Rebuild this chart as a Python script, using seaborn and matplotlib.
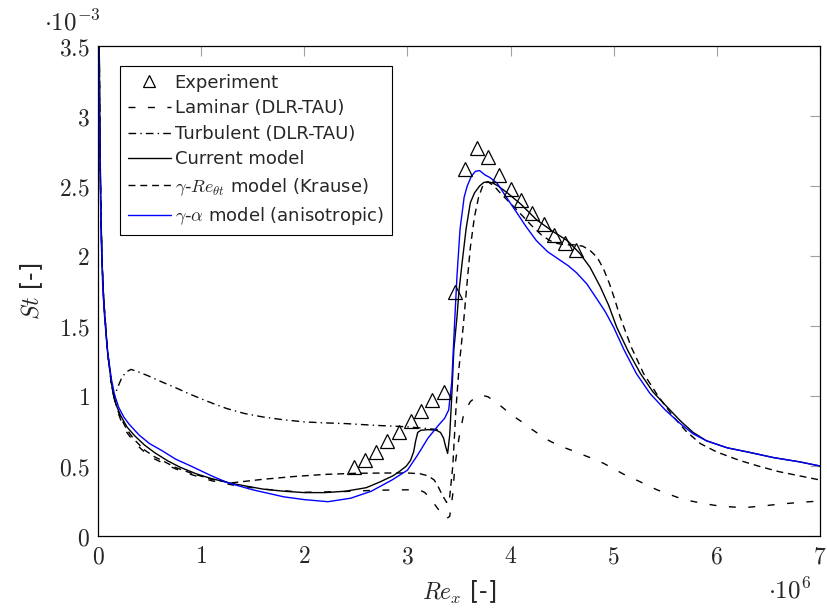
import matplotlib
matplotlib.use("Agg")
import matplotlib.pyplot as plt
import seaborn as sns
from matplotlib.ticker import FuncFormatter, MultipleLocator

# Re_x in units of 1e6, St in units of 1e-3
exp_x = [2.48, 2.59, 2.70, 2.80, 2.92, 3.03, 3.13, 3.24, 3.35, 3.46, 3.56,
         3.67, 3.78, 3.89, 4.00, 4.10, 4.21, 4.32, 4.42, 4.53, 4.63]
exp_y = [0.49, 0.54, 0.60, 0.68, 0.74, 0.82, 0.89, 0.97, 1.03, 1.74, 2.62,
         2.77, 2.71, 2.58, 2.48, 2.40, 2.31, 2.23, 2.15, 2.09, 2.04]

# common near-leading-edge decay
lead_x = [0.012, 0.02, 0.03, 0.04, 0.055, 0.075, 0.09, 0.11, 0.13, 0.155]
lead_y = [3.5, 2.75, 2.25, 1.95, 1.69, 1.49, 1.33, 1.21, 1.09, 0.99]

lam_x = lead_x + [0.185, 0.22, 0.28, 0.35, 0.45, 0.55, 0.62, 0.75, 0.9, 1.1,
                  1.3, 1.6, 2.0, 2.4, 2.7, 3.0, 3.12, 3.17, 3.22, 3.27, 3.32, 3.36,
                  3.38, 3.41, 3.44, 3.46, 3.5, 3.54, 3.58, 3.61, 3.66, 3.72, 3.78,
                  3.85, 3.92, 4.0, 4.1, 4.19, 4.35, 4.47, 4.6, 4.77, 4.9, 5.0, 5.1,
                  5.22, 5.32, 5.42, 5.53, 5.64, 5.75, 5.85, 5.97, 6.1, 6.2, 6.3,
                  6.45, 6.6, 6.8, 7.0]
lam_y = lead_y + [0.9, 0.83, 0.74, 0.67, 0.6, 0.55, 0.525, 0.48, 0.44, 0.395,
                  0.365, 0.335, 0.312, 0.318, 0.327, 0.33, 0.328, 0.31, 0.27, 0.22, 0.17, 0.135,
                  0.125, 0.14, 0.3, 0.5, 0.7, 0.85, 0.92, 0.96, 0.99, 1.005, 0.995,
                  0.96, 0.92, 0.87, 0.82, 0.77, 0.69, 0.645, 0.61, 0.56, 0.52, 0.48, 0.44,
                  0.4, 0.365, 0.33, 0.3, 0.27, 0.25, 0.235, 0.22, 0.21, 0.205, 0.205,
                  0.215, 0.227, 0.24, 0.25]

turb_x = lead_x + [0.19, 0.23, 0.27, 0.32, 0.4, 0.5, 0.62, 0.75, 0.87, 1.0,
                   1.12, 1.25, 1.42, 1.6, 1.8, 2.0, 2.2, 2.4, 2.7, 3.0, 3.3]
turb_y = lead_y + [1.06, 1.13, 1.17, 1.19, 1.17, 1.14, 1.1, 1.06, 1.02, 0.98,
                   0.945, 0.91, 0.875, 0.85, 0.83, 0.815, 0.808, 0.803, 0.79, 0.78, 0.76]

cur_x = lead_x + [0.185, 0.22, 0.28, 0.35, 0.45, 0.55, 0.68, 0.8, 0.95, 1.1,
                  1.3, 1.6, 1.8, 2.0, 2.2, 2.4, 2.6, 2.73, 2.86, 2.93, 2.99, 3.03,
                  3.06, 3.08, 3.1, 3.13, 3.2, 3.28, 3.32, 3.35, 3.37, 3.39, 3.41,
                  3.43, 3.45, 3.48, 3.5, 3.53, 3.57, 3.61, 3.65, 3.7, 3.74, 3.78,
                  3.83, 3.88, 3.97, 4.1, 4.25, 4.4, 4.55, 4.67, 4.77, 4.87, 4.95,
                  5.03, 5.14, 5.26, 5.38, 5.52, 5.65, 5.77, 5.9, 6.1, 6.3, 6.55,
                  6.8, 7.0]
cur_y = lead_y + [0.92, 0.86, 0.78, 0.72, 0.65, 0.595, 0.535, 0.49, 0.445, 0.41,
                  0.375, 0.335, 0.32, 0.31, 0.31, 0.32, 0.345, 0.385, 0.43, 0.465, 0.5, 0.54,
                  0.6, 0.68, 0.74, 0.755, 0.76, 0.755, 0.74, 0.7, 0.64, 0.59, 0.72,
                  1.0, 1.33, 1.56, 1.75, 1.95, 2.2, 2.38, 2.45, 2.5, 2.525, 2.53,
                  2.52, 2.5, 2.45, 2.37, 2.26, 2.18, 2.11, 2.02, 1.92, 1.78, 1.65,
                  1.49, 1.32, 1.16, 1.03, 0.92, 0.82, 0.74, 0.68, 0.63, 0.6, 0.56,
                  0.53, 0.5]

kr_x = lead_x + [0.185, 0.22, 0.28, 0.35, 0.45, 0.55, 0.62, 0.75, 0.9, 1.1,
                 1.3, 1.6, 1.9, 2.2, 2.5, 2.8, 3.0, 3.12, 3.2, 3.26, 3.3, 3.34,
                 3.38, 3.41, 3.44, 3.47, 3.5, 3.54, 3.58, 3.61, 3.65, 3.69, 3.73,
                 3.78, 3.84, 3.9, 3.98, 4.06, 4.2, 4.3, 4.38, 4.45, 4.53, 4.62, 4.7,
                 4.77, 4.84, 4.9, 4.96, 5.01, 5.06, 5.17, 5.29, 5.43, 5.58, 5.7,
                 5.84, 6.0, 6.22, 6.4, 6.6, 6.8, 7.0]
kr_y = lead_y + [0.91, 0.845, 0.76, 0.69, 0.615, 0.565, 0.54, 0.49, 0.45, 0.405,
                 0.38, 0.405, 0.425, 0.44, 0.448, 0.45, 0.45, 0.445, 0.43, 0.4, 0.35, 0.29,
                 0.24, 0.28, 0.5, 0.9, 1.2, 1.49, 1.82, 2.06, 2.28, 2.42, 2.5,
                 2.53, 2.5, 2.45, 2.39, 2.33, 2.22, 2.15, 2.11, 2.09, 2.08, 2.08, 2.07,
                 2.04, 1.99, 1.91, 1.8, 1.69, 1.57, 1.35, 1.16, 1.0, 0.85, 0.75,
                 0.66, 0.6, 0.54, 0.5, 0.46, 0.43, 0.4]

# gamma-alpha: first sample sits at x=0, below the leading-edge peak
ga_x = [0.0, 0.005, 0.02, 0.03, 0.045, 0.06, 0.08, 0.1, 0.13, 0.16, 0.2, 0.25,
        0.3, 0.4, 0.5, 0.62, 0.75, 0.9, 1.1, 1.26, 1.5, 1.8, 2.0, 2.23, 2.45,
        2.65, 2.85, 3.0, 3.1, 3.2, 3.3, 3.36, 3.4, 3.43, 3.46, 3.48, 3.51, 3.55,
        3.58, 3.62, 3.66, 3.7, 3.75, 3.8, 3.87, 3.95, 4.06, 4.15, 4.25, 4.36,
        4.48, 4.56, 4.64, 4.74, 4.84, 4.92, 5.0, 5.1, 5.22, 5.35, 5.5, 5.65,
        5.77, 5.9, 6.1, 6.3, 6.55, 6.8, 7.0]
ga_y = [1.35, 3.7, 2.6, 2.15, 1.8, 1.6, 1.42, 1.28, 1.12, 1.01, 0.92, 0.85,
        0.8, 0.72, 0.66, 0.61, 0.55, 0.5, 0.43, 0.38, 0.33, 0.28, 0.26, 0.245, 0.27,
        0.32, 0.4, 0.47, 0.58, 0.7, 0.79, 0.84, 0.9, 1.1, 1.56, 1.85, 2.19, 2.42,
        2.5, 2.57, 2.605, 2.61, 2.58, 2.56, 2.52, 2.43, 2.31, 2.21, 2.11, 2.03,
        1.97, 1.93, 1.88, 1.8, 1.69, 1.6, 1.49, 1.33, 1.16, 1.02, 0.9, 0.8,
        0.73, 0.68, 0.63, 0.6, 0.56, 0.53, 0.5]

sns.set_style("white")
plt.rcParams["font.family"] = ["DejaVu Sans"]
plt.rcParams["mathtext.fontset"] = "cm"

fig = plt.figure(figsize=(8.27, 6.08), dpi=100)
ax = fig.add_axes([0.1185, 0.1184, 0.873, 0.806])

lw = 1.0
common = dict(ax=ax, sort=False, estimator=None, lw=lw)
sns.lineplot(x=lam_x, y=lam_y, color="k", linestyle=(0, (5, 9)),
             label="Laminar (DLR-TAU)", **common)
sns.lineplot(x=turb_x, y=turb_y, color="k", linestyle=(0, (5.5, 3, 1, 3)),
             label="Turbulent (DLR-TAU)", **common)
sns.lineplot(x=cur_x, y=cur_y, color="k", label="Current model", **common)
sns.lineplot(x=kr_x, y=kr_y, color="k", linestyle=(0, (5, 3.5)),
             label=r"$\gamma$-$Re_{\theta t}$ model (Krause)", **common)
sns.lineplot(x=ga_x, y=ga_y, color="#0000ff",
             label=r"$\gamma$-$\alpha$ model (anisotropic)", **common)
sns.lineplot(x=exp_x, y=exp_y, ax=ax, color="k", linestyle="", marker="^", ms=10,
             markerfacecolor="none", markeredgecolor="k", markeredgewidth=0.9,
             sort=False, estimator=None, label="Experiment")

ax.set_xlim(0, 7)
ax.set_ylim(0, 3.5)
ax.xaxis.set_major_locator(MultipleLocator(1))
ax.yaxis.set_major_locator(MultipleLocator(0.5))
fmt = FuncFormatter(lambda v, _: f"${v:g}$")
ax.xaxis.set_major_formatter(fmt)
ax.yaxis.set_major_formatter(fmt)
ax.tick_params(direction="in", length=7, width=0.8, color="#a0a0a0",
               top=True, right=True, labelsize=17, pad=6)
for s in ax.spines.values():
    s.set_color("k")
    s.set_linewidth(0.9)

ax.set_xlabel(r"$Re_x$ [-]", fontsize=17, labelpad=8)
ax.set_ylabel(r"$St$ [-]", fontsize=17, labelpad=10)
ax.text(-0.075, 1.048, r"$\cdot10^{-3}$", transform=ax.transAxes, fontsize=18,
        ha="left", va="center")
ax.text(0.958, -0.112, r"$\cdot10^{6}$", transform=ax.transAxes, fontsize=18,
        ha="center", va="center")

h, l = ax.get_legend_handles_labels()
order = [5, 0, 1, 2, 3, 4]
leg = ax.legend([h[i] for i in order], [l[i] for i in order], loc="upper left",
                bbox_to_anchor=(0.03, 0.96), borderaxespad=0, fontsize=13,
                frameon=True, fancybox=False, edgecolor="k", framealpha=1,
                handlelength=2.4, handletextpad=0.2, labelspacing=0.42,
                borderpad=0.45, markerscale=0.8)
leg.get_frame().set_linewidth(0.8)

fig.savefig("out.png", dpi=100)
